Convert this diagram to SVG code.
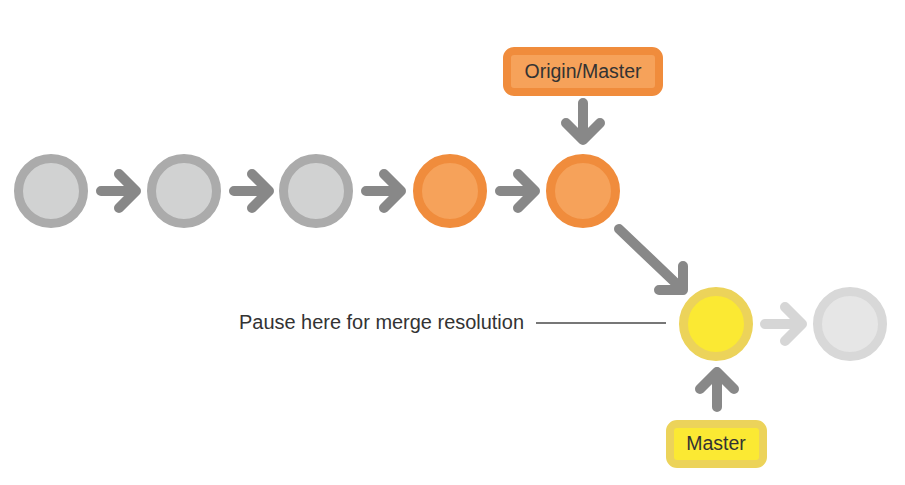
<svg xmlns="http://www.w3.org/2000/svg" width="905" height="485" viewBox="0 0 905 485">
<style>
.c{stroke-width:9}
.g{fill:#d1d2d2;stroke:#ababab}
.o{fill:#f6a25a;stroke:#f08c3c}
.y{fill:#fbe933;stroke:#ecd35a}
.l{fill:#e6e6e6;stroke:#d8d8d8}
.a{fill:none;stroke:#888;stroke-width:10;stroke-linecap:round;stroke-linejoin:round}
.al{stroke:#d6d6d6}
text{font-family:"Liberation Sans",Arial,sans-serif;font-size:19.5px;fill:#333}
</style>
<rect width="905" height="485" fill="#fff"/>
<g id="c1"><circle class="c g" cx="51" cy="191" r="32.5"/></g>
<g id="c2"><circle class="c g" cx="184" cy="191" r="32.5"/></g>
<g id="c3"><circle class="c g" cx="316" cy="191" r="32.5"/></g>
<g id="c4"><circle class="c o" cx="450" cy="191" r="32.5"/></g>
<g id="c5"><circle class="c o" cx="583" cy="191" r="32.5"/></g>
<g id="c6"><circle class="c y" cx="716" cy="324" r="32.5"/></g>
<g id="c7"><circle class="c l" cx="850" cy="324" r="32.5"/></g>
<g id="origin">
<rect x="507" y="51" width="152" height="41" rx="7" fill="#f6a25a" stroke="#f08c3c" stroke-width="8"/>
<text x="583" y="78" text-anchor="middle">Origin/Master</text>
</g>
<g id="master">
<rect x="670" y="424" width="93" height="40" rx="7" fill="#fbe933" stroke="#ecd35a" stroke-width="8"/>
<text x="716" y="450" text-anchor="middle">Master</text>
</g>
<g id="pause">
<text x="239" y="329" textLength="285" lengthAdjust="spacingAndGlyphs">Pause here for merge resolution</text>
</g>
<g id="connectors">
<path class="a" d="M101 191H136M119 174L136 191L119 208"/>
<path class="a" d="M234 191H269M252 174L269 191L252 208"/>
<path class="a" d="M366 191H401M384 174L401 191L384 208"/>
<path class="a" d="M500 191H535M518 174L535 191L518 208"/>
<path class="a" d="M583 103V140M566 123L583 140L600 123"/>
<path class="a" d="M619 229L683 290M683 266V290H659"/>
<path class="a" d="M717 407V372M700 389L717 372L734 389"/>
<path class="a al" d="M765 324H802M785 307L802 324L785 341"/>
<line x1="536" y1="323" x2="666" y2="323" stroke="#777" stroke-width="2"/>
</g>
</svg>
